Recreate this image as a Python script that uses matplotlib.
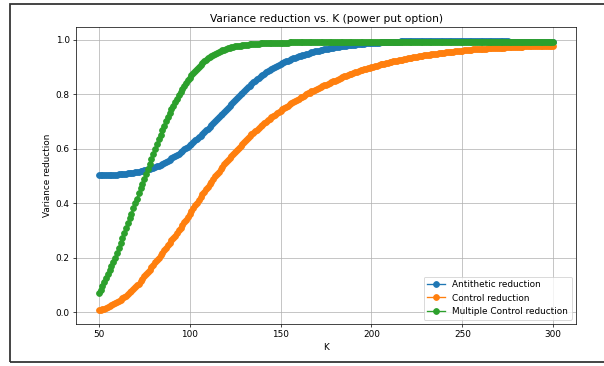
import numpy as np
import matplotlib
matplotlib.use("Agg")
import matplotlib.pyplot as plt
from matplotlib.patches import Rectangle

# -----------------------------
# Data
# -----------------------------
K = np.arange(50, 301)

antithetic = [
    0.505, 0.505, 0.505, 0.505, 0.505, 0.505, 0.505, 0.505, 0.506, 0.506,
    0.506, 0.507, 0.507, 0.508, 0.508, 0.509, 0.510, 0.511, 0.512, 0.513,
    0.514, 0.515, 0.516, 0.518, 0.519, 0.521, 0.523, 0.525, 0.527, 0.529,
    0.531, 0.533, 0.536, 0.538, 0.541, 0.546, 0.549, 0.553, 0.557, 0.561,
    0.565, 0.569, 0.573, 0.578, 0.583, 0.588, 0.593, 0.598, 0.603, 0.608,
    0.614, 0.619, 0.625, 0.631, 0.637, 0.643, 0.649, 0.655, 0.662, 0.668,
    0.675, 0.681, 0.688, 0.695, 0.702, 0.709, 0.716, 0.723, 0.730, 0.737,
    0.744, 0.751, 0.758, 0.765, 0.772, 0.779, 0.786, 0.793, 0.800, 0.806,
    0.813, 0.819, 0.826, 0.832, 0.838, 0.844, 0.850, 0.855, 0.861, 0.866,
    0.871, 0.876, 0.881, 0.886, 0.890, 0.894, 0.898, 0.902, 0.906, 0.909,
    0.912, 0.915, 0.918, 0.921, 0.924, 0.927, 0.930, 0.932, 0.935, 0.937,
    0.940, 0.942, 0.944, 0.946, 0.948, 0.950, 0.952, 0.954, 0.956, 0.958,
    0.960, 0.961, 0.963, 0.964, 0.966, 0.967, 0.968, 0.970, 0.971, 0.972,
    0.973, 0.974, 0.975, 0.976, 0.977, 0.978, 0.979, 0.980, 0.981, 0.981,
    0.982, 0.983, 0.984, 0.984, 0.985, 0.986, 0.986, 0.987, 0.987, 0.988,
    0.988, 0.989, 0.989, 0.990, 0.990, 0.991, 0.991, 0.991, 0.992, 0.992,
    0.993, 0.993, 0.993, 0.994, 0.994, 0.994, 0.995, 0.995, 0.995, 0.995,
    0.996, 0.996, 0.996, 0.996, 0.996, 0.997, 0.997, 0.997, 0.997, 0.997,
    0.997, 0.998, 0.998, 0.998, 0.998, 0.998, 0.998, 0.998, 0.998, 0.998,
    0.998, 0.998, 0.998, 0.998, 0.998, 0.998, 0.998, 0.998, 0.998, 0.998,
    0.998, 0.998, 0.998, 0.998, 0.998, 0.998, 0.998, 0.998, 0.998, 0.998,
    0.998, 0.997, 0.997, 0.997, 0.997, 0.997, 0.996, 0.996, 0.996, 0.996,
    0.996, 0.995, 0.995, 0.995, 0.995, 0.995, 0.994, 0.994, 0.994, 0.994,
    0.994, 0.994, 0.993, 0.993, 0.993, 0.993, 0.993, 0.993, 0.993, 0.993,
    0.993, 0.993, 0.993, 0.993, 0.993, 0.993, 0.993, 0.993, 0.993, 0.993,
    0.993,
]

control = [
    0.007, 0.009, 0.011, 0.014, 0.017, 0.020, 0.023, 0.027, 0.030, 0.034,
    0.038, 0.042, 0.047, 0.052, 0.057, 0.062, 0.068, 0.074, 0.080, 0.086,
    0.092, 0.099, 0.106, 0.114, 0.123, 0.132, 0.140, 0.149, 0.157, 0.166,
    0.175, 0.184, 0.192, 0.201, 0.210, 0.219, 0.228, 0.237, 0.246, 0.255,
    0.264, 0.273, 0.282, 0.292, 0.301, 0.310, 0.320, 0.331, 0.341, 0.352,
    0.362, 0.372, 0.382, 0.393, 0.403, 0.413, 0.423, 0.433, 0.442, 0.452,
    0.462, 0.471, 0.480, 0.490, 0.499, 0.508, 0.517, 0.526, 0.534, 0.543,
    0.551, 0.559, 0.567, 0.575, 0.582, 0.590, 0.597, 0.605, 0.612, 0.619,
    0.626, 0.633, 0.640, 0.646, 0.653, 0.659, 0.665, 0.671, 0.677, 0.683,
    0.689, 0.695, 0.700, 0.706, 0.711, 0.716, 0.721, 0.726, 0.731, 0.736,
    0.741, 0.746, 0.750, 0.755, 0.759, 0.764, 0.768, 0.772, 0.776, 0.780,
    0.785, 0.789, 0.792, 0.796, 0.800, 0.804, 0.807, 0.811, 0.814, 0.818,
    0.821, 0.824, 0.827, 0.830, 0.833, 0.836, 0.839, 0.842, 0.845, 0.848,
    0.851, 0.854, 0.857, 0.860, 0.863, 0.866, 0.869, 0.871, 0.874, 0.876,
    0.879, 0.881, 0.883, 0.886, 0.888, 0.890, 0.892, 0.894, 0.896, 0.898,
    0.900, 0.902, 0.904, 0.906, 0.908, 0.910, 0.911, 0.913, 0.915, 0.916,
    0.918, 0.920, 0.921, 0.923, 0.924, 0.926, 0.927, 0.928, 0.930, 0.931,
    0.932, 0.934, 0.935, 0.936, 0.937, 0.938, 0.940, 0.941, 0.942, 0.943,
    0.944, 0.945, 0.946, 0.947, 0.948, 0.949, 0.950, 0.951, 0.952, 0.953,
    0.953, 0.954, 0.955, 0.956, 0.957, 0.957, 0.958, 0.959, 0.960, 0.960,
    0.961, 0.962, 0.962, 0.963, 0.964, 0.964, 0.965, 0.965, 0.966, 0.966,
    0.967, 0.967, 0.968, 0.968, 0.969, 0.969, 0.970, 0.970, 0.970, 0.971,
    0.971, 0.972, 0.972, 0.972, 0.973, 0.973, 0.973, 0.974, 0.974, 0.974,
    0.975, 0.975, 0.975, 0.975, 0.976, 0.976, 0.976, 0.976, 0.977, 0.977,
    0.977, 0.977, 0.977, 0.978, 0.978, 0.978, 0.978, 0.978, 0.979, 0.979,
    0.979,
]

multiple_control = [
    0.070, 0.083, 0.097, 0.111, 0.125, 0.140, 0.155, 0.170, 0.185, 0.201,
    0.218, 0.236, 0.254, 0.272, 0.290, 0.308, 0.327, 0.345, 0.363, 0.382,
    0.400, 0.418, 0.437, 0.455, 0.473, 0.491, 0.509, 0.527, 0.545, 0.563,
    0.581, 0.599, 0.617, 0.635, 0.652, 0.669, 0.685, 0.701, 0.716, 0.731,
    0.745, 0.759, 0.772, 0.785, 0.798, 0.810, 0.821, 0.832, 0.842, 0.852,
    0.861, 0.870, 0.879, 0.887, 0.895, 0.902, 0.909, 0.915, 0.921, 0.927,
    0.932, 0.937, 0.941, 0.945, 0.949, 0.953, 0.956, 0.959, 0.962, 0.964,
    0.967, 0.969, 0.971, 0.973, 0.974, 0.976, 0.977, 0.978, 0.979, 0.980,
    0.981, 0.982, 0.983, 0.984, 0.984, 0.985, 0.985, 0.986, 0.986, 0.987,
    0.987, 0.987, 0.988, 0.988, 0.988, 0.988, 0.989, 0.989, 0.989, 0.989,
    0.990, 0.990, 0.990, 0.990, 0.990, 0.991, 0.991, 0.991, 0.991, 0.991,
    0.991, 0.991, 0.991, 0.991, 0.991, 0.992, 0.992, 0.992, 0.992, 0.992,
    0.992, 0.992, 0.992, 0.992, 0.992, 0.992, 0.992, 0.992, 0.992, 0.992,
    0.992, 0.992, 0.992, 0.992, 0.992, 0.992, 0.992, 0.992, 0.992, 0.992,
    0.992, 0.992, 0.992, 0.992, 0.992, 0.992, 0.992, 0.992, 0.992, 0.992,
    0.992, 0.992, 0.992, 0.992, 0.992, 0.992, 0.992, 0.992, 0.992, 0.992,
    0.992, 0.992, 0.992, 0.992, 0.992, 0.992, 0.992, 0.992, 0.992, 0.992,
    0.992, 0.992, 0.992, 0.992, 0.992, 0.992, 0.992, 0.992, 0.992, 0.992,
    0.992, 0.992, 0.992, 0.992, 0.992, 0.992, 0.992, 0.992, 0.992, 0.992,
    0.992, 0.992, 0.992, 0.992, 0.992, 0.992, 0.992, 0.992, 0.992, 0.992,
    0.992, 0.992, 0.992, 0.992, 0.992, 0.992, 0.992, 0.992, 0.992, 0.992,
    0.992, 0.992, 0.992, 0.992, 0.992, 0.992, 0.992, 0.992, 0.992, 0.992,
    0.992, 0.992, 0.992, 0.992, 0.992, 0.992, 0.992, 0.992, 0.992, 0.992,
    0.992, 0.992, 0.992, 0.992, 0.992, 0.992, 0.992, 0.992, 0.992, 0.992,
    0.992, 0.992, 0.992, 0.992, 0.992, 0.992, 0.992, 0.992, 0.992, 0.992,
    0.992,
]

# -----------------------------
# Figure (10x6 original shown at ~64 dpi inside a framed screenshot)
# -----------------------------
DPI = 64
W, H = 604, 366
fig = plt.figure(figsize=(W / DPI, H / DPI), dpi=DPI)

ax = fig.add_axes([76 / W, 1 - 324 / H, 500 / W, 297 / H])
ax.plot(K, antithetic, marker="o", markersize=6.5, label="Antithetic reduction")
ax.plot(K, control, marker="o", markersize=6.5, label="Control reduction")
ax.plot(K, multiple_control, marker="o", markersize=6.5,
        label="Multiple Control reduction")

ax.set_title("Variance reduction vs. K (power put option)")
ax.set_xlabel("K")
ax.set_ylabel("Variance reduction")
ax.legend(loc="lower right")
ax.grid(True)

# dark frame around the output cell
fig.add_artist(Rectangle((10 / W, 1 - 362 / H), 1.2, (362 - 4) / H,
                         transform=fig.transFigure, fill=False,
                         edgecolor="#333333", linewidth=2.0, clip_on=False))

fig.savefig("out.png", dpi=DPI)
